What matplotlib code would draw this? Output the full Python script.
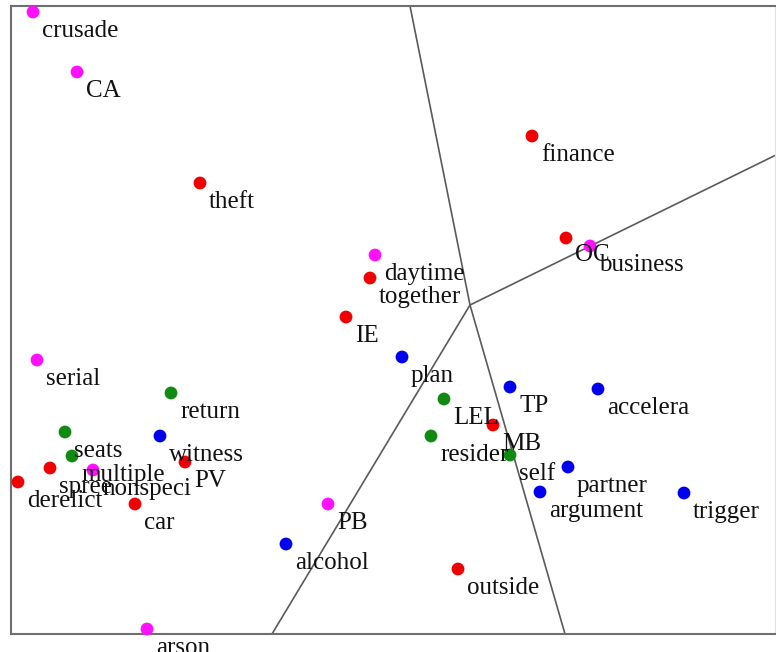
"""
Carte de positionnement des mots-clés (scatter étiqueté avec séparateurs).
"""

import matplotlib

matplotlib.use("Agg")
import matplotlib.pyplot as plt

labels = [
    "crusade", "CA", "theft", "finance", "OC", "business", "daytime",
    "together", "IE", "serial", "plan", "return", "TP", "accelera", "LEL",
    "MB", "seats", "witness", "resider", "self", "spree", "multiple",
    "nonspeci", "derelict", "PV", "car", "partner", "argument", "trigger",
    "PB", "alcohol", "outside", "arson",
]
xs = [
    33, 77, 200, 532, 566, 590, 375,
    370, 346, 37, 402, 171, 510, 598, 444,
    493, 65, 160, 431, 510, 50, 72,
    93, 18, 185, 135, 568, 540, 684,
    328, 286, 458, 147,
]
ys = [
    12, 72, 183, 136, 238, 246, 255,
    278, 317, 360, 357, 393, 387, 389, 399,
    425, 432, 436, 436, 455, 468, 456,
    470, 482, 462, 504, 467, 492, 493,
    504, 544, 569, 629,
]
groups = [
    "m", "m", "r", "r", "r", "m", "m",
    "r", "r", "m", "b", "g", "b", "b", "g",
    "r", "g", "b", "g", "g", "r", "g",
    "m", "r", "r", "r", "b", "b", "b",
    "m", "b", "r", "m",
]
# décalage vertical particulier de certaines étiquettes
label_dy = {"OC": 17}

# séparateurs : centre et extrémités
center = (470, 305)
ends = [(410, 6), (776, 155), (565, 634), (272, 634)]

palette = {"m": "#ff10ff", "r": "#f00000", "g": "#108a10", "b": "#0000ee"}

fig = plt.figure(figsize=(7.76, 6.52), dpi=100, facecolor="white")
ax = fig.add_axes([11 / 776, 18 / 652, 764 / 776, 628 / 652])
ax.set_xlim(11, 775)
ax.set_ylim(634, 6)

for ex, ey in ends:
    ax.plot([center[0], ex], [center[1], ey], color="#5a5a5a", linewidth=1.2, zorder=1)

ax.scatter(
    xs, ys, s=85, c=[palette[g] for g in groups], edgecolors="none", zorder=3,
    clip_on=False,
)

for lab, x, y in zip(labels, xs, ys):
    ax.text(
        x + 9, y + label_dy.get(lab, 19), lab,
        fontsize=18, family="Liberation Serif", color="#111111",
        ha="left", va="center", zorder=4, clip_on=False,
    )

ax.set_xticks([])
ax.set_yticks([])
for side in ("left", "bottom", "top"):
    ax.spines[side].set_color("#6e6e6e")
    ax.spines[side].set_linewidth(1.5)
ax.spines["right"].set_color("#e0e0e0")
ax.spines["right"].set_linewidth(0.8)

fig.savefig("out.png", dpi=100, facecolor="white")
plt.close(fig)
